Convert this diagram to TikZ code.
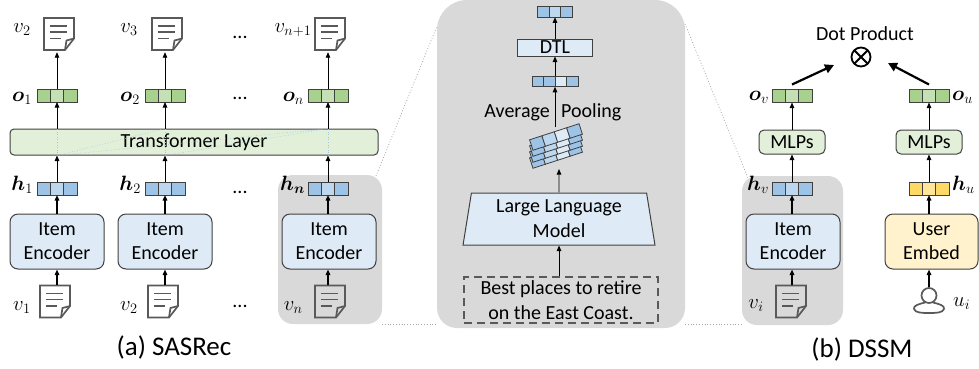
\documentclass[tikz,border=0pt]{standalone}
\usepackage{amsmath,bm}
\usepackage{fontspec}
\setmainfont{Carlito}
\usetikzlibrary{shapes.geometric,arrows.meta}
\definecolor{bdr}{HTML}{404040}
\definecolor{gry}{HTML}{D9D9D9}
\definecolor{icn}{HTML}{595959}
\definecolor{encf}{HTML}{DEEBF7}
\definecolor{mlpf}{HTML}{E2F0D9}
\definecolor{usrf}{HTML}{FFF2CC}
\definecolor{bA}{HTML}{9DC3E6}
\definecolor{bB}{HTML}{BDD7EE}
\definecolor{gA}{HTML}{A9D18E}
\definecolor{gB}{HTML}{C5E0B4}
\definecolor{yA}{HTML}{FFD966}
\definecolor{yB}{HTML}{FFE699}
\definecolor{dotl}{HTML}{A6A6A6}
\definecolor{tdotc}{HTML}{9DC3E6}
\newcommand\embr[5][]{%
  \node[cell,#1,fill=#5] (#2) at (#3) {};
  \node[cell,#1,fill=#4,anchor=east] (#2l) at (#2.west) {};
  \node[cell,#1,fill=#4,anchor=west] (#2r) at (#2.east) {};}
\newcommand\docic[2]{%
  \node[minimum width=30pt,minimum height=32pt,inner sep=0pt] (#1) at (#2) {};
  \begin{scope}[shift={(#1.center)}]
    \draw[iconln] (-15,-16) -- (15,-16) -- (15,4.5) -- (6,16) -- (-15,16) -- cycle;
    \draw[iconln] (6,16) -- (7.5,6.5) -- (15,4.5);
    \draw[iconln] (-9,-8) -- (7.5,-8) (-9,-2) -- (7.5,-2) (-9,4.5) -- (2,4.5);
  \end{scope}}
\begin{document}
\begin{tikzpicture}[x=1pt,y=-1pt,
  font=\fontsize{20}{24}\selectfont,
  cell/.style={draw=bdr,line width=0.9pt,minimum width=13.3pt,minimum height=13pt,inner sep=0pt,outer sep=0pt},
  cellsm/.style={minimum width=11.5pt,minimum height=10.5pt},
  box/.style={draw=bdr,line width=1pt,rounded corners=8pt,align=center,inner sep=0pt},
  enc/.style={box,fill=encf,minimum width=94pt,minimum height=55pt},
  usr/.style={box,fill=usrf,minimum width=93pt,minimum height=55pt},
  mlp/.style={box,fill=mlpf,rounded corners=5pt,minimum width=66pt,minimum height=24pt},
  tlayer/.style={box,fill=mlpf,rounded corners=4pt,minimum width=368pt,minimum height=26pt},
  dtl/.style={draw=bdr,line width=1pt,fill=encf,minimum width=75pt,minimum height=17pt,inner sep=0pt},
  llm/.style={draw=bdr,line width=1pt,fill=encf,trapezium,trapezium stretches=true,
     trapezium left angle=81,trapezium right angle=81,minimum width=192pt,minimum height=52pt,
     inner sep=0pt,align=center,font=\fontsize{20}{25}\selectfont},
  qbox/.style={draw=icn,line width=2pt,dash pattern=on 8pt off 5pt,minimum width=194pt,
     minimum height=46pt,inner sep=0pt,align=center,font=\fontsize{20}{25}\selectfont},
  arr/.style={-{Triangle[length=5.5pt,width=4.5pt]},line width=0.9pt,black},
  arrb/.style={arr,line width=1.4pt},
  thkarr/.style={-{Triangle[length=9pt,width=9pt]},line width=2.2pt,black},
  iconln/.style={draw=icn,line width=1.7pt,line join=miter},
  lbl/.style={inner sep=0pt},
  captxt/.style={inner sep=0pt,font=\fontsize{27}{32}\selectfont},
  zoomdot/.style={draw=dotl,line width=0.8pt,dotted},
  tdot/.style={draw=tdotc,line width=0.6pt,dotted}]
\useasboundingbox (0,0) rectangle (979,368);

% backgrounds
\fill[gry,rounded corners=15pt] (278,175) rectangle (382,324);
\fill[gry,rounded corners=15pt] (742,176) rectangle (843,325);
\fill[gry,rounded corners=30pt] (561,0) -- (685,0) -- (685,200) [rounded corners=20pt] -- (685,328) -- (437,328) -- (437,200) [rounded corners=30pt] -- (437,0) -- cycle;
\draw[zoomdot] (376,176) -- (437,26);
\draw[zoomdot] (382,324) -- (437,324);
\draw[zoomdot] (685,24) -- (748,178);
\draw[zoomdot] (685,324) -- (742,324);

% ---------- (a) SASRec ----------
\node[tlayer] (tl) at (194,142) {Transformer Layer};

\embr{o1}{57,95.5}{gA}{gB}
\embr{o2}{165,95.5}{gA}{gB}
\embr{on}{328,95.5}{gA}{gB}
\embr{h1}{57,188.5}{bA}{bB}
\embr{h2}{165,188.5}{bA}{bB}
\embr{hn}{328,188.5}{bA}{bB}

\draw[tdot] (h1.north |- tl.south) -- (o1.south |- tl.north);
\draw[tdot] (h2.north |- tl.south) -- (o2.south |- tl.north);
\draw[tdot] (hn.north |- tl.south) -- (on.south |- tl.north);
\draw[tdot] (h1.north |- tl.south) -- (o2.south |- tl.north);
\draw[tdot] (h1.north |- tl.south) -- (on.south |- tl.north);
\draw[tdot] (h2.north |- tl.south) -- (on.south |- tl.north);

\docic{t1}{59,34}
\docic{t2}{167,34}
\docic{tn}{330,34}
\node[lbl,anchor=base] (lt1) at (22,32) {$v_2$};
\node[lbl,anchor=base] (lt2) at (129,32) {$v_3$};
\node[lbl,anchor=base] (ltn) at (293,32) {$v_{n+1}$};

\node[lbl,anchor=base east] (lo1) at ([xshift=-5pt]o1l.west |- 0,101) {$\bm{o}_1$};
\node[lbl,anchor=base east] (lo2) at ([xshift=-5pt]o2l.west |- 0,101) {$\bm{o}_2$};
\node[lbl,anchor=base east] (lon) at ([xshift=-4pt]onl.west |- 0,101) {$\bm{o}_n$};
\node[lbl,anchor=base east] (lh1) at ([xshift=-4pt]h1l.west |- 0,190) {$\bm{h}_1$};
\node[lbl,anchor=base east] (lh2) at ([xshift=-4pt]h2l.west |- 0,190) {$\bm{h}_2$};
\node[lbl,anchor=base east] (lhn) at ([xshift=-3pt]hnl.west |- 0,190) {$\bm{h}_{\bm{n}}$};

\node[enc] (e1) at (57,241.5) {Item\\Encoder};
\node[enc] (e2) at (165,241.5) {Item\\Encoder};
\node[enc] (en) at (329,241.5) {Item\\Encoder};

\docic{b1}{55,301.5}
\docic{b2}{163,301.5}
\docic{bn}{330,301.5}
\node[lbl,anchor=base east] (lb1) at ([xshift=-9pt]b1.west |- 0,310) {$v_1$};
\node[lbl,anchor=base east] (lb2) at ([xshift=-10pt]b2.west |- 0,310) {$v_2$};
\node[lbl,anchor=base east] (lbn) at ([xshift=-12pt]bn.west |- 0,310) {$v_n$};

\node[lbl] (d1) at (240,37) {...};
\node[lbl] (d2) at (240,98) {...};
\node[lbl] (d3) at (240,192) {...};
\node[lbl] (d4) at (240,306) {...};

\foreach \c in {1,2,n} {
  \draw[arr,shorten >=2pt] (o\c.north) -- (o\c.north |- t\c.south);
  \draw[arr] (o\c.south |- tl.north) -- (o\c.south);
  \draw[arr] (h\c.north) -- (h\c.north |- tl.south);
  \draw[arrb] (h\c.south |- e\c.north) -- (h\c.south);
  \draw[arrb] (h\c.south |- b\c.north) -- (h\c.south |- e\c.south);
}

\node[captxt,anchor=base] (capa) at (174,355) {(a) SASRec};

% ---------- middle: LLM item encoder ----------
\embr[cellsm]{me}{555,12}{bA}{bB}
\node[dtl] (dtl) at (555,47.5) {DTL};
\node[cell,cellsm,fill=bA,anchor=east] (m2) at (555,81.5) {};
\node[cell,cellsm,fill=encf,anchor=west] (m3) at (555,81.5) {};
\node[cell,cellsm,fill=bA,anchor=east] (m1) at (m2.west) {};
\node[cell,cellsm,fill=bA,anchor=west] (m4) at (m3.east) {};
\draw[arr] (dtl.north) -- (me.south);
\draw[arr] (m2.north east) -- (dtl.south);
\coordinate (sttop) at (555,127);
\draw[arr] (sttop) -- (m2.south east);
\node[lbl,anchor=base east] (avg) at (550,117) {Average};
\node[lbl,anchor=base west] (pool) at (561,117) {Pooling};

% stacked token embeddings (rising to the right, layers shifted downward)
\foreach \k in {3,2,1,0} {
  \foreach \i/\cc in {0/bA,1/bB,2/encf,3/bA} {
    \pgfmathsetmacro\ua{-26+13*\i}
    \pgfmathsetmacro\ub{-13+13*\i}
    \filldraw[fill=\cc,draw=bdr,line width=0.8pt]
      ({556+\ua*0.951-5.5*0.309},{137-\ua*0.309-5.5*0.951+6*\k}) --
      ({556+\ub*0.951-5.5*0.309},{137-\ub*0.309-5.5*0.951+6*\k}) --
      ({556+\ub*0.951+5.5*0.309},{137-\ub*0.309+5.5*0.951+6*\k}) --
      ({556+\ua*0.951+5.5*0.309},{137-\ua*0.309+5.5*0.951+6*\k}) -- cycle;
  }
}

\node[llm] (llm) at (559,219) {Large Language\\Model};
\coordinate (stbot) at (559,169);
\draw[arr] (llm.north) -- (stbot);
\node[qbox] (q) at (561,300) {Best places to retire\\on the East Coast.};
\draw[arr] (q.north -| llm.south) -- (llm.south);

% ---------- (b) DSSM ----------
\node[lbl,anchor=base] (dpt) at (865,40) {Dot Product};
\node[circle,draw=black,line width=1.8pt,minimum size=19pt,inner sep=0pt,outer sep=0pt] (dot) at (861,57) {};
\draw[line width=1.8pt] (dot.45) -- (dot.225) (dot.135) -- (dot.-45);

\embr{ov}{792,96}{gA}{gB}
\embr{ou}{929,96}{gA}{gB}
\node[lbl,anchor=base east] (lov) at ([xshift=-3pt]ovl.west |- 0,100) {$\bm{o}_v$};
\node[lbl,anchor=base west] (lou) at ([xshift=3pt]our.east |- 0,100) {$\bm{o}_u$};
\coordinate (dvv) at (834,65);
\coordinate (duu) at (888,63);
\draw[thkarr] ([yshift=5pt]ov.north) -- (dvv);
\draw[thkarr] ([yshift=5pt]ou.north) -- (duu);

\node[mlp] (mv) at (792,142) {MLPs};
\node[mlp] (mu) at (929,142) {MLPs};
\draw[arr] (mv.north) -- (ov.south);
\draw[arr] (mu.north) -- (ou.south);

\embr{hv}{792,188.5}{bA}{bB}
\embr{hu}{929,188.5}{yA}{yB}
\node[lbl,anchor=base east] (lhv) at ([xshift=-3pt]hvl.west |- 0,190) {$\bm{h}_v$};
\node[lbl,anchor=base west] (lhu) at ([xshift=3pt]hur.east |- 0,190) {$\bm{h}_u$};
\draw[arr] (hv.north) -- (mv.south);
\draw[arr] (hu.north) -- (mu.south);

\node[enc] (ev) at (793,241.5) {Item\\Encoder};
\node[usr] (ue) at (931.5,241.5) {User\\Embed};
\draw[arrb] (hv.south |- ev.north) -- (hv.south);
\draw[arrb] (hu.south |- ue.north) -- (hu.south);

\docic{docvi}{791,301.5}
\node[lbl,anchor=base east] (lvi) at ([xshift=-12pt]docvi.west |- 0,308) {$v_i$};
\draw[arrb] (hv.south |- docvi.north) -- (hv.south |- ev.south);

\node[minimum width=32pt,minimum height=26pt,inner sep=0pt] (uic) at (929,300.5) {};
\begin{scope}[shift={(uic.center)}]
  \draw[iconln,line join=round] (0,-5) circle[radius=7.5pt];
  \draw[iconln,line join=round] (-4,2) .. controls (-10,3.5) and (-16,5) .. (-15,8.5)
     .. controls (-14,12.5) and (-6,12.5) .. (0,12.5)
     .. controls (6,12.5) and (14,12.5) .. (15,8.5)
     .. controls (16,5) and (10,3.5) .. (4,2);
\end{scope}
\node[lbl,anchor=base west] (lui) at (953,306) {$u_i$};
\draw[arrb] (hu.south |- uic.north) -- (hu.south |- ue.south);

\node[captxt,anchor=base] (capb) at (862,357) {(b) DSSM};
\end{tikzpicture}
\end{document}
